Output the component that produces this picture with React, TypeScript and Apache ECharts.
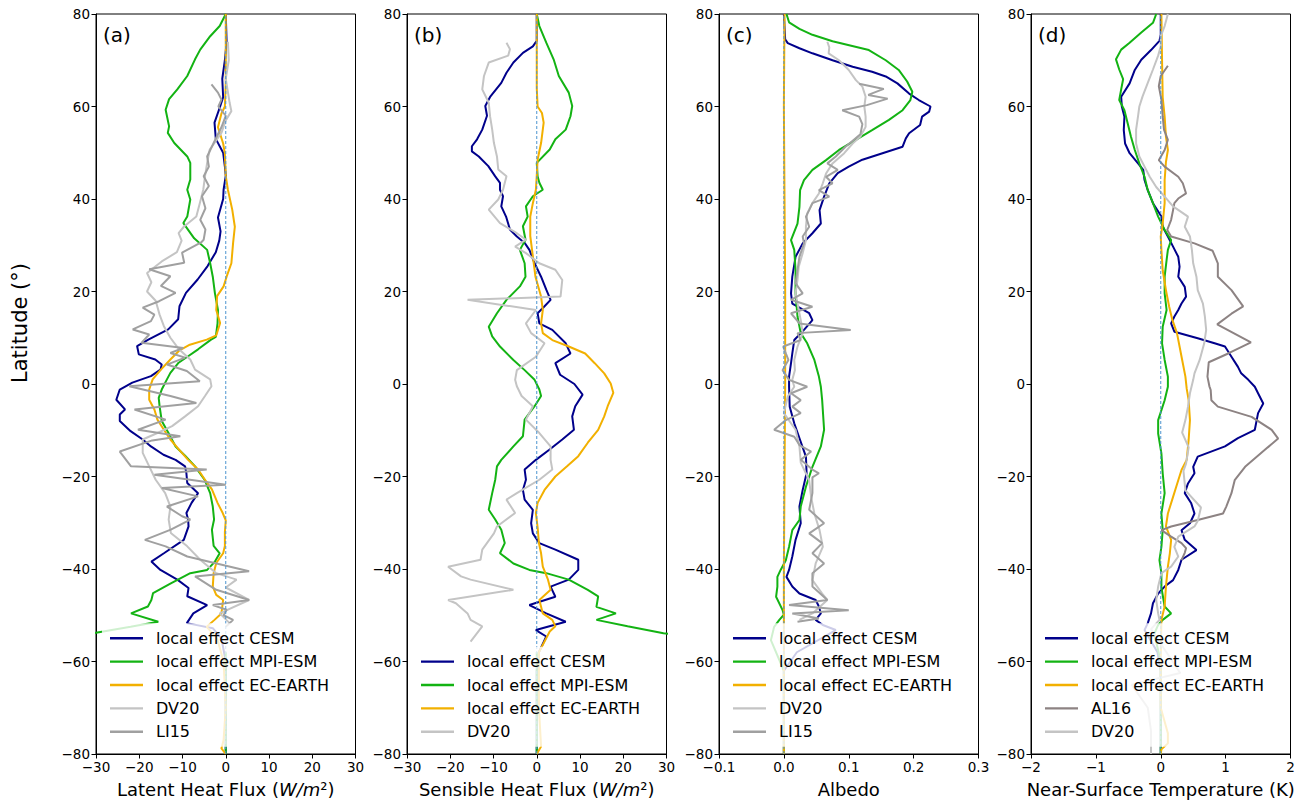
import React, { useEffect, useRef } from "react";
import * as echarts from "echarts";

const FONT = "DejaVu Sans";

// ---------- tick / axis info ----------
const LAT_MIN = -80;
const LAT_MAX = 80;
const LAT_STEP = 20;
const PANEL_LABELS = ["(a)", "(b)", "(c)", "(d)"];
const X_RANGES = [
  [-30, 30, 10],
  [-30, 30, 10],
  [-0.1, 0.3, 0.1],
  [-2, 2, 1],
];

// ---------- names ----------
const N_CESM = "local effect CESM";
const N_MPI = "local effect MPI-ESM";
const N_ECE = "local effect EC-EARTH";
const N_DV20 = "DV20";
const N_LI15 = "LI15";
const N_AL16 = "AL16";

// ---------- (a) latent heat flux : [value, latitude] ----------
const latentCESM = [[0,80],[0.2,74],[-0.2,70],[-0.8,66],[-0.6,62],[-1.3,60],[-2.6,56.5],[-2.3,53],[-0.6,50],[-0.2,47],[0,45],[-0.5,42],[-0.6,40],[-1.8,36],[-1.2,33],[-1.5,31],[-2.3,28.5],[-4.2,25.5],[-6.5,22.6],[-9.2,19.7],[-10.7,16.8],[-11,14],[-13.3,11.8],[-17.9,9.6],[-20.5,8.2],[-20.1,6.4],[-16.3,5.3],[-14.8,4.2],[-15.1,3.1],[-17.3,1.7],[-21.6,0.3],[-24.5,-1.2],[-25.3,-3.4],[-23.3,-5.5],[-24.5,-6.6],[-24.5,-8],[-22,-10.2],[-19.2,-12],[-17.3,-13.5],[-14.4,-15.3],[-11.6,-16.4],[-9.4,-17.8],[-9.1,-19.3],[-8.9,-21.4],[-6.4,-23.6],[-7.9,-25.7],[-9.1,-27.9],[-8.7,-29.3],[-8.6,-30.8],[-9.7,-33.7],[-14.3,-36.6],[-17.2,-38.4],[-15.1,-40.2],[-11.2,-42.3],[-8.6,-44.1],[-8.9,-45.9],[-4.3,-47.8],[-7.5,-49.6],[-9,-51.7],[-3,-52.8],[-1,-55],[0,-60],[0,-80]];
const latentMPI = [[0,80],[-1.4,77.4],[-3.6,75.2],[-5.9,72.3],[-7.1,70.2],[-8.9,66.6],[-11.2,63.7],[-13.1,61.6],[-13.9,59.3],[-13.1,55.7],[-13.4,54.3],[-11.9,52.1],[-8.9,49.2],[-8.2,47.8],[-8.2,44.2],[-8.9,42],[-8.2,39.9],[-8.9,36.2],[-9.8,34.8],[-7.3,31.5],[-4.3,29],[-3.6,26.1],[-3,23.2],[-2.5,19.6],[-1.8,16],[-1.9,13.1],[-2.3,10.2],[-3.4,9.6],[-6.4,7.5],[-8.7,6],[-10.9,4.6],[-12.8,2.4],[-13.6,1],[-14.8,-1.2],[-15.5,-3],[-15.3,-4.8],[-14.8,-8],[-13.3,-10.5],[-11.6,-13.5],[-9.4,-15.5],[-7.1,-17.8],[-4.9,-20.7],[-3.6,-23.6],[-3,-26.5],[-2.7,-29.3],[-3.2,-31.5],[-2.8,-35],[-1.4,-36.6],[-2.5,-38.4],[-4.3,-40.2],[-8.2,-40.9],[-12.7,-43.1],[-16.8,-45.2],[-17.2,-46.7],[-18,-48.1],[-21.9,-49.6],[-15.6,-51.4],[-22,-52.5],[-30,-53.8],[-36,-54.5]];
const latentMPITail = [[0,-58],[0,-80]];
const latentECE = [[0,80],[0,65],[-0.2,60],[-1,58.5],[-1.8,55.5],[-0.6,52],[-0.2,49.8],[0,45],[0.5,42],[1.5,37.7],[2.1,34],[1.7,30.5],[1.3,26.1],[0.2,23.2],[-0.5,21.1],[-2,19],[-2.2,16],[-1.3,13.2],[-2.2,10.5],[-4.4,9.6],[-8.3,8.5],[-10.8,7.2],[-12.8,5.3],[-15,3.1],[-16.9,1],[-17.7,-1.2],[-17.7,-3.4],[-16.5,-5.5],[-15.8,-7.7],[-14.3,-9.9],[-12.8,-12],[-10.8,-14.2],[-8.7,-16.4],[-6.4,-18.5],[-4.8,-20.7],[-3.2,-22.8],[-1.9,-25.7],[-0.7,-27.9],[0,-29.5],[-0.2,-32],[-0.2,-35],[-0.6,-36.6],[-2.2,-38.7],[-2.8,-40.9],[-3,-43.8],[-2.2,-45.6],[-0.6,-46.7],[-1,-49.6],[-2.6,-51],[-4.4,-52.5],[-2,-55],[-0.5,-60],[0,-70],[-0.5,-77],[-1,-78.8],[0,-80]];
const latentDV20 = [[0.5,74],[0.7,70],[0,66],[0.9,60.8],[1.3,59],[0,57],[-1,54.3],[-2.7,52],[-3.7,50.7],[-4.3,47.8],[-4.8,44.9],[-5.2,42],[-6,39.1],[-6.8,36.2],[-9.7,34],[-10.9,32.6],[-10.2,31],[-11.3,28.5],[-14.8,26.5],[-18.2,24],[-17.2,22],[-18.2,20],[-16.2,18],[-15.3,15],[-14.3,12.5],[-12.8,10],[-10.8,7.5],[-8.2,5.3],[-7.1,3.1],[-3.6,1],[-3.3,-0.5],[-4.8,-2.6],[-6.4,-4.8],[-9.4,-7],[-12.4,-9.1],[-15.8,-10.6],[-19.2,-12],[-19.2,-14.9],[-17.7,-17.8],[-16.2,-20.7],[-14,-23.6],[-12.8,-26.5],[-13.2,-29.3],[-12.7,-32.2],[-8.9,-35.1],[-5.9,-38],[-2.2,-40.9],[2.5,-42.3],[0,-44],[5.4,-46.7],[-1.4,-49.6],[0.9,-51.7]];
const latentLI15 = [[-3.3,64.8],[-1.8,63],[-1,61.5],[-1.7,60],[0,58],[-1,55.5],[-2.8,52.1],[-4.3,49.2],[-3.9,47],[-5.1,44.9],[-3.9,42.8],[-5.5,40.6],[-4.7,38],[-5.9,35.5],[-4.7,33.4],[-5.1,31.2],[-5.7,30.6],[-10.1,28.4],[-9.6,26.2],[-17.7,24.8],[-12.8,23.3],[-15,21.2],[-11.6,19.7],[-15.4,17.9],[-19.2,16.5],[-16.5,15],[-17.3,13.6],[-21.5,11.8],[-17.7,10.7],[-19.5,8.9],[-9.8,7.8],[-12.8,6.7],[-9.4,5.7],[-13.6,4.2],[-9,2.8],[-6,0.6],[-22.3,-0.5],[-12.8,-2.6],[-6.8,-4.1],[-21.1,-5.5],[-13.9,-7.7],[-20.3,-9.9],[-10.5,-11.3],[-17,-12.2],[-24.5,-14.6],[-21.9,-17.8],[-4.4,-18.5],[-16.5,-19.6],[0,-21.8],[-14.8,-22.5],[-6.4,-24.3],[-13.6,-26.5],[-10.1,-28.6],[-8.2,-29.3],[-12.7,-31.5],[-18.7,-33.7],[-13.9,-35.1],[-8.9,-37.3],[5.4,-40.5],[-7.1,-41.6],[-2.2,-44.5],[5.4,-46.7],[-3,-47.8],[0.2,-48.8],[-0.5,-50],[1.7,-51],[0,-52.5]];

// ---------- (b) sensible heat flux ----------
const sensibleCESM = [[0,80],[0,74.2],[-0.9,73],[-3.2,71.6],[-5.4,69.5],[-7,67.3],[-8.2,65.1],[-10.7,62.2],[-11.9,60.1],[-11.5,58],[-12.6,55],[-13.8,52.9],[-15,51.4],[-15,50.3],[-13.4,49.2],[-11.2,47.1],[-9.6,44.9],[-8.5,43.5],[-8.5,42],[-7.8,40.6],[-8.2,38.4],[-7.1,36.2],[-6.2,33.4],[-4.6,31.9],[-2.8,30.5],[-1.7,29],[-0.5,26.1],[1,23.2],[2.2,20.4],[3.2,18.2],[1.8,16.8],[0.2,15.3],[0.6,13.1],[3.6,11.7],[6.7,8.8],[7.8,6.6],[4.3,4.5],[5.4,2],[8.7,0],[10.6,-2.3],[8.9,-4.8],[8.2,-7],[8.6,-9.9],[5.9,-12],[2.9,-14.2],[-0.2,-16.4],[-2.8,-18.5],[-2.5,-20.7],[-3.2,-22.9],[-2.8,-25],[-0.9,-27.2],[-1.3,-30.1],[-0.9,-32.3],[0.6,-34.4],[4.3,-35.8],[9.6,-38],[9.6,-40.2],[7.4,-42.3],[3.2,-43.8],[4.3,-46],[-1.7,-47.8],[2.2,-49.6],[6.7,-51.4],[-0.2,-53.2],[2.2,-54.6],[0.5,-58],[0,-62],[0,-80]];
const sensibleMPI = [[0,80],[0.6,77.4],[2.2,73.8],[3.9,70.2],[5.1,66.6],[7.4,63],[8.2,60.1],[7.8,57.9],[6.7,55],[4.3,52.9],[3,50.7],[0,47.8],[0.2,44.9],[0.6,43.5],[1.4,42],[-0.9,40.6],[-2.5,38.4],[-2.1,36.2],[-3.2,34.1],[-2.6,31.2],[-3.9,29],[-2.8,26.1],[-2.6,23.2],[-3.9,21.1],[-7,18.2],[-9.2,15.3],[-11.1,12.4],[-10.3,10.3],[-8.5,8.1],[-5.4,5.2],[-2.8,3],[-0.5,0.9],[0.6,-1.2],[1,-2.6],[-0.5,-4.8],[-2.8,-7.7],[-3.2,-11.3],[-5.4,-13.5],[-8.2,-16.4],[-9.2,-17.8],[-9.6,-20.7],[-10.3,-23.6],[-11.1,-27.2],[-9.6,-29.3],[-8.2,-31.5],[-7.4,-34.4],[-8.5,-36.6],[-5.4,-38.8],[-1.7,-40.2],[2.2,-40.9],[7.4,-42.3],[11.8,-44.5],[14.2,-45.9],[13.8,-48.2],[18.3,-49.6],[13.8,-51],[21,-52.4],[29.3,-53.9],[36,-54.5]];
const sensibleMPITail = [[0,-58],[0,-80]];
const sensibleECE = [[0,80],[0,64],[0.2,60],[1.2,58.6],[1.6,56.5],[1,52.1],[0.2,48.5],[0,45],[-0.2,42],[-0.9,39.1],[-1.5,36.2],[-1.5,32],[-0.9,27.6],[-0.3,23.2],[1,18.9],[1.4,16],[1,13.1],[1.4,11],[3.6,9.5],[7.4,8.1],[11.2,6.6],[13.4,4.5],[15.6,2.3],[17.1,0.1],[17.7,-1.9],[16.4,-4.8],[15.6,-7],[14.2,-9.9],[11.8,-12.7],[9.6,-15.6],[7,-17.8],[4.3,-20],[1.8,-22.9],[0.2,-25.7],[-0.2,-27.9],[0.2,-31],[0.5,-34.4],[1,-36.6],[1.4,-39.5],[2.6,-42.3],[3.2,-44.5],[0.6,-46.7],[1.4,-49.6],[3.6,-51],[4.3,-52.4],[3,-53.5],[0.5,-58],[0.5,-70],[1,-78.4],[0,-80]];
const sensibleDV20 = [[-7,73.8],[-6.2,72.4],[-6.6,71],[-11.1,69.5],[-12.2,66.6],[-12.6,63.7],[-11.1,60.8],[-10.8,57.9],[-10.3,55],[-9.9,52.1],[-9.2,49.2],[-8.9,46.4],[-7,44.9],[-7.8,42],[-8.9,39.9],[-11.1,37.7],[-8.5,34.8],[-4.6,32.6],[-2.5,31.2],[-5,29.7],[-2.5,28.3],[0.6,26.1],[4.3,24.7],[5.9,22.5],[5.5,18.9],[-16,18.2],[-0.2,16],[-2.5,13.1],[-1.3,11],[1.8,8.8],[-0.2,5.9],[-4.6,3],[-5,0.9],[-4.6,-0.5],[-3.5,-2.6],[-0.9,-4.8],[-2.5,-7.7],[0.6,-10.6],[3.2,-13.5],[3.2,-16.4],[3.6,-18.5],[0.6,-20.7],[-4.6,-23.6],[-7,-25],[-5,-27.9],[-9.2,-30.8],[-9.9,-32.3],[-12.6,-35.8],[-13,-38],[-20.5,-39.5],[-17.5,-41.6],[-15.3,-42.3],[-5.4,-44.5],[-20.5,-46.7],[-18.7,-47.4],[-16,-49.6],[-15.3,-51],[-12.6,-52.4],[-15.3,-55.7]];

// ---------- (c) albedo ----------
const albedoCESM = [[0,80],[0.002,74.5],[0.006,73.7],[0.024,72.6],[0.044,71.5],[0.075,70],[0.106,68.6],[0.136,67.5],[0.157,66.5],[0.175,65],[0.193,62.8],[0.208,61.4],[0.226,60],[0.224,58.9],[0.213,57.8],[0.21,56],[0.193,54.2],[0.188,53.1],[0.183,51.3],[0.152,49.9],[0.121,48.5],[0.1,47],[0.083,45.6],[0.07,43.4],[0.062,40.5],[0.055,37.6],[0.057,34.7],[0.044,32.6],[0.029,30.4],[0.018,27.5],[0.013,23.2],[0.011,19.6],[0.013,17.4],[0.039,15.3],[0.044,13.8],[0.031,11.7],[0.016,9.5],[0.013,6.6],[0.011,4.5],[0.008,1.6],[0.008,-0.6],[0.009,-4.9],[0.016,-8.5],[0.025,-12.1],[0.034,-15.7],[0.035,-19.3],[0.029,-22.9],[0.024,-26.5],[0.026,-30.1],[0.018,-33.7],[0.013,-37.3],[0.008,-40.2],[0.004,-41.7],[0.013,-43.8],[0.024,-45.3],[0.049,-46.7],[0.054,-48.1],[0.057,-49.6],[0.049,-51],[0.06,-52.1],[0.08,-53.2],[0.02,-58],[0,-62],[0,-80]];
const albedoMPI = [[0.004,80],[0.008,78.2],[0.024,76.8],[0.044,75.5],[0.075,74.1],[0.131,72.2],[0.157,70],[0.177,67.9],[0.19,65.4],[0.198,63.2],[0.195,61.4],[0.183,59.2],[0.162,57.1],[0.136,54.9],[0.111,52.8],[0.085,50.6],[0.065,48.4],[0.044,46.3],[0.031,44.1],[0.025,41.9],[0.024,38.3],[0.021,34.7],[0.011,31.1],[0.016,29],[0.018,24.6],[0.018,19.6],[0.021,14.6],[0.026,11],[0.036,8.8],[0.047,5.2],[0.054,1.6],[0.057,-0.6],[0.059,-3.5],[0.062,-9.9],[0.057,-13.5],[0.044,-17.9],[0.034,-22.2],[0.026,-26.5],[0.024,-29.4],[0.013,-31.6],[0.008,-35.2],[0.003,-38.1],[-0.005,-40.2],[-0.01,-41.7],[-0.01,-43.8],[-0.012,-46],[-0.002,-48.9],[0,-49.9],[-0.007,-51],[-0.015,-52.5],[-0.02,-55.4],[0,-62],[0,-80]];
const albedoECE = [[0.001,80],[0,60],[0.001,40],[0.002,20],[0.002,0],[0.001,-20],[0,-40],[0,-60],[0,-80]];
const albedoDV20 = [[0.067,74],[0.07,72.8],[0.069,71.5],[0.085,70],[0.1,67.9],[0.111,65.7],[0.121,64.3],[0.126,62.1],[0.124,60],[0.126,57.8],[0.126,55.6],[0.118,53.5],[0.106,52],[0.093,49.9],[0.075,47.7],[0.065,45.5],[0.06,43.4],[0.054,41.2],[0.044,39.1],[0.036,36.9],[0.034,34],[0.034,31.1],[0.029,28.3],[0.023,25.4],[0.021,22.5],[0.018,19.6],[0.021,17.4],[0.026,13.8],[0.029,11],[0.021,8.1],[0.016,5.2],[0.017,3],[0.013,0.9],[0.016,-0.6],[0.006,-2.7],[0,-6.3],[0.018,-9.9],[0.024,-13.5],[0.026,-17],[0.039,-20.8],[0.042,-24.4],[0.047,-28],[0.055,-31.6],[0.06,-35.2],[0.049,-38.8],[0.044,-42.4],[0.059,-45.3],[0.067,-46.7],[0.044,-49.6],[0.024,-51]];
const albedoLI15 = [[0.116,64.9],[0.154,63.8],[0.13,62.5],[0.16,61.7],[0.128,60.3],[0.09,59.2],[0.116,57.8],[0.121,56.2],[0.118,54],[0.095,51.3],[0.08,49.2],[0.067,47.7],[0.083,46.3],[0.065,44.8],[0.075,43.4],[0.054,41.9],[0.07,40.5],[0.044,39.1],[0.039,37.6],[0.034,36.2],[0.039,34],[0.029,31.9],[0.031,30.4],[0.024,27.5],[0.021,24.6],[0.018,21.8],[0.029,19.6],[0.011,18.2],[0.044,16.7],[0.011,15.3],[0.024,13.1],[0.103,11.7],[0.021,11],[0.026,9.5],[-0.001,8.1],[0.003,6.6],[0.007,5.2],[-0.002,3],[0.008,0.9],[0.036,-0.6],[0.011,-2],[0.026,-3.5],[0.013,-4.9],[0.026,-6.3],[0.003,-7.8],[-0.015,-9.9],[0.016,-11.4],[0.024,-13.2],[0.042,-14.6],[0.026,-16.4],[0.044,-18.5],[0.054,-19.3],[0.044,-20.2],[0.044,-23.6],[0.039,-27.2],[0.062,-30.1],[0.039,-32.3],[0.059,-34.4],[0.044,-36.6],[0.062,-38.8],[0.044,-40.9],[0.044,-43.8],[0.067,-46.7],[0.008,-47.8],[0.1,-48.9],[0.013,-49.6],[0.054,-50.7],[0.021,-51.4]];

// ---------- (d) near-surface temperature ----------
const tempCESM = [[0,80],[0,75.5],[-0.02,74.2],[-0.15,72.2],[-0.3,70.1],[-0.4,67.9],[-0.48,65],[-0.61,62.1],[-0.6,60],[-0.56,57.8],[-0.57,54.9],[-0.55,52],[-0.48,49.9],[-0.35,47.7],[-0.27,46.3],[-0.25,44.1],[-0.2,41.9],[-0.12,39.1],[0.01,36.2],[0.03,34],[0.11,31.9],[0.19,29.7],[0.27,27.5],[0.29,25.4],[0.27,23.2],[0.37,21],[0.39,18.9],[0.32,17.4],[0.27,16],[0.21,14.6],[0.16,13.1],[0.21,11.3],[0.57,9.9],[0.83,8.8],[0.99,8.1],[1.09,5.9],[1.19,3.7],[1.24,2.3],[1.35,0.9],[1.45,-0.6],[1.5,-2],[1.58,-4.2],[1.5,-6.3],[1.45,-9.9],[1.19,-11.7],[0.99,-13.5],[0.57,-15.7],[0.5,-17.9],[0.52,-19.3],[0.42,-21.5],[0.37,-23.6],[0.47,-25.8],[0.52,-28],[0.45,-30.1],[0.32,-31.6],[0.37,-33.7],[0.55,-35.9],[0.32,-38],[0.27,-40.2],[0.19,-42.4],[0.06,-43.8],[-0.04,-45.3],[-0.12,-47.4],[-0.15,-49.6],[-0.2,-51.7],[-0.25,-53.2],[-0.05,-58],[0,-62],[0,-80]];
const tempMPI = [[-0.07,80],[-0.12,78.1],[-0.3,76],[-0.48,73.8],[-0.61,72.3],[-0.69,70.2],[-0.64,68],[-0.58,65.9],[-0.61,63.7],[-0.64,61.4],[-0.56,59.2],[-0.51,56.4],[-0.46,53.5],[-0.4,50.6],[-0.33,47.7],[-0.25,44.8],[-0.2,41.9],[-0.12,39.1],[-0.04,36.2],[0.06,33.3],[0.16,31.1],[0.11,29],[0.09,26.8],[0.06,23.2],[0.06,19.6],[0.09,16],[0.03,12.4],[0.02,8.8],[0.06,5.2],[0.11,1.6],[0.11,-0.6],[0.06,-3.5],[-0.04,-7.8],[-0.04,-10.7],[0.01,-15],[0.03,-19.3],[0.06,-23.6],[0.01,-28],[0.03,-31.6],[0.01,-35.2],[-0.02,-38.1],[0.01,-40.9],[0.01,-44],[0.06,-48.1],[0.16,-49.6],[0.03,-51],[-0.04,-52.1],[-0.1,-54],[0,-60],[0,-80]];
const tempECE = [[0.01,80],[0.02,70],[0.03,62],[0.06,57.8],[0.08,53.5],[0.11,50.6],[0.08,48],[0.06,44.1],[0.06,39.1],[0.03,34.7],[0,31.9],[0.01,29],[0.03,24.6],[0.08,20.3],[0.13,16.7],[0.18,13.8],[0.25,11],[0.29,8.1],[0.34,4.5],[0.38,1.6],[0.4,-1],[0.43,-3.5],[0.45,-7.8],[0.43,-12.1],[0.4,-16.4],[0.32,-18.6],[0.27,-20.8],[0.19,-24.4],[0.11,-28],[0.08,-30.8],[0.16,-33.7],[0.14,-36.6],[0.11,-39.5],[0.08,-43.8],[0.06,-48.1],[0.01,-51],[0,-60],[0,-70],[0.11,-75.5],[0.11,-77.7],[0.01,-79],[0,-80]];
const tempAL16 = [[0.11,68.8],[0,66.6],[-0.03,64.4],[0.01,61.5],[0.03,57.9],[0.05,55],[0.11,52.8],[0.06,50.6],[-0.03,48.4],[0.06,47],[0.27,44.8],[0.34,43.4],[0.39,41.2],[0.27,40.1],[0.21,39.1],[0.19,37.6],[0.16,35.5],[0.1,33.3],[0.16,31.9],[0.52,30.4],[0.8,28.8],[0.88,26.1],[0.88,23.2],[1.09,20.3],[1.27,16.8],[1.09,15.2],[0.87,12.9],[1.39,9],[1.04,6.6],[0.74,4.7],[0.72,1.6],[0.75,-0.5],[0.77,-1.3],[0.78,-3.5],[0.88,-4.9],[1.4,-7.1],[1.71,-9.9],[1.81,-11.8],[1.65,-13.7],[1.3,-17.9],[1.14,-20.8],[1.09,-23.6],[1.01,-26.5],[0.96,-28],[0.57,-29.4],[0.16,-30.8],[0.01,-31.6],[0.16,-33],[0.32,-34.4],[0.39,-35.5],[0.37,-36.5],[0.32,-38.1]];
const tempDV20 = [[0.11,80],[0.06,77.4],[0,75.2],[0,73],[-0.04,71],[-0.12,68],[-0.2,65.1],[-0.28,62.2],[-0.33,60],[-0.35,57.9],[-0.38,55],[-0.38,52],[-0.33,49.2],[-0.25,47],[-0.17,44.8],[-0.07,42.6],[0.06,40.5],[0.19,38.4],[0.42,36.2],[0.37,34],[0.45,31.9],[0.48,29],[0.5,26.1],[0.55,23.2],[0.57,20.3],[0.65,17.4],[0.68,14.6],[0.7,11.7],[0.67,8.8],[0.6,5.2],[0.52,2.3],[0.5,0.9],[0.45,-2],[0.42,-4.9],[0.38,-7.8],[0.33,-10.5],[0.43,-13.7],[0.39,-17.2],[0.35,-18.8],[0.38,-23],[0.62,-26.7],[0.57,-29.6],[0.52,-30.8],[0.27,-33],[0.21,-35.2],[0.27,-37.3],[0.16,-39.5],[0.01,-40.9],[-0.04,-43.8],[-0.07,-46.7],[-0.04,-49.6],[-0.02,-51],[-0.15,-53],[0.3,-62.5],[-0.45,-65],[-0.2,-70],[-0.15,-75],[-0.15,-80]];

const ZERO_LINE = [[0, LAT_MIN], [0, LAT_MAX]];

// ---------- styling ----------
const C_CESM = "#00008b";
const C_MPI = "#13b313";
const C_ECE = "#f2b000";
const C_DV20 = "#c4c4c4";
const C_LI15 = "#a0a0a0";
const C_AL16 = "#8d8383";
const C_ZERO = "#4d94cf";

const GRID_LEFT = [96, 407, 719, 1031];
const GRID_W = 259.5;
const GRID_TOP = 14;
const GRID_H = 740;

const X_NAMES = [
  "{n|Latent Heat Flux (}{i|W/m}{n|²)}",
  "{n|Sensible Heat Flux (}{i|W/m}{n|²)}",
  "{n|Albedo}",
  "{n|Near-Surface Temperature (K)}",
];

type Pt = number[];
type SeriesDef = { name: string; data: Pt[]; color: string };

const PANELS: { series: SeriesDef[]; legend: string[] }[] = [
  {
    series: [
      { name: N_CESM, data: latentCESM, color: C_CESM },
      { name: N_MPI, data: latentMPI, color: C_MPI },
      { name: "", data: latentMPITail, color: C_MPI },
      { name: N_ECE, data: latentECE, color: C_ECE },
      { name: N_DV20, data: latentDV20, color: C_DV20 },
      { name: N_LI15, data: latentLI15, color: C_LI15 },
    ],
    legend: [N_CESM, N_MPI, N_ECE, N_DV20, N_LI15],
  },
  {
    series: [
      { name: N_CESM, data: sensibleCESM, color: C_CESM },
      { name: N_MPI, data: sensibleMPI, color: C_MPI },
      { name: "", data: sensibleMPITail, color: C_MPI },
      { name: N_ECE, data: sensibleECE, color: C_ECE },
      { name: N_DV20, data: sensibleDV20, color: C_DV20 },
    ],
    legend: [N_CESM, N_MPI, N_ECE, N_DV20],
  },
  {
    series: [
      { name: N_CESM, data: albedoCESM, color: C_CESM },
      { name: N_MPI, data: albedoMPI, color: C_MPI },
      { name: N_ECE, data: albedoECE, color: C_ECE },
      { name: N_DV20, data: albedoDV20, color: C_DV20 },
      { name: N_LI15, data: albedoLI15, color: C_LI15 },
    ],
    legend: [N_CESM, N_MPI, N_ECE, N_DV20, N_LI15],
  },
  {
    series: [
      { name: N_CESM, data: tempCESM, color: C_CESM },
      { name: N_MPI, data: tempMPI, color: C_MPI },
      { name: N_ECE, data: tempECE, color: C_ECE },
      { name: N_AL16, data: tempAL16, color: C_AL16 },
      { name: N_DV20, data: tempDV20, color: C_DV20 },
    ],
    legend: [N_CESM, N_MPI, N_ECE, N_AL16, N_DV20],
  },
];

function fmtTick(v: number, panel: number): string {
  let s: string;
  if (panel === 2) {
    s = Math.abs(v) < 1e-9 ? "0.0" : v.toFixed(1);
  } else {
    s = String(Math.round(v));
  }
  return s.replace("-", "\u2212");
}

function buildOption() {
  const grid: any[] = [];
  const xAxis: any[] = [];
  const yAxis: any[] = [];
  const series: any[] = [];
  const legend: any[] = [];
  const graphic: any[] = [];

  const ROW_STEP = 23.35;
  const firstRowA = 638.3;

  PANELS.forEach((p, i) => {
    grid.push({
      left: GRID_LEFT[i],
      top: GRID_TOP,
      width: GRID_W,
      height: GRID_H,
      show: true,
      borderColor: "#000",
      borderWidth: 1,
      backgroundColor: "transparent",
    });
    const [mn, mx, iv] = X_RANGES[i];
    xAxis.push({
      type: "value",
      gridIndex: i,
      min: mn,
      max: mx,
      interval: iv,
      axisLine: { show: true, onZero: false, lineStyle: { color: "#000", width: 1 } },
      axisTick: { show: true, length: 4.5, lineStyle: { color: "#000" } },
      axisLabel: {
        fontSize: 13.5,
        color: "#000",
        fontFamily: FONT,
        margin: 6,
        formatter: (v: number) => fmtTick(v, i),
      },
      splitLine: { show: false },
      name: X_NAMES[i],
      nameLocation: "middle",
      nameGap: 26,
      nameTextStyle: {
        fontFamily: FONT,
        fontSize: 18,
        color: "#000",
        rich: {
          n: { fontFamily: FONT, fontSize: 18, color: "#000" },
          i: { fontFamily: FONT, fontSize: 18, color: "#000", fontStyle: "italic" },
        },
      },
    });
    yAxis.push({
      type: "value",
      gridIndex: i,
      min: LAT_MIN,
      max: LAT_MAX,
      interval: LAT_STEP,
      axisLine: { show: true, onZero: false, lineStyle: { color: "#000", width: 1 } },
      axisTick: { show: true, length: 4.5, lineStyle: { color: "#000" } },
      axisLabel: {
        fontSize: 13.5,
        color: "#000",
        fontFamily: FONT,
        margin: 6,
        formatter: (v: number) => String(v).replace("-", "\u2212"),
      },
      splitLine: { show: false },
    });

    p.series.forEach((s) => {
      series.push({
        type: "line",
        name: s.name,
        data: s.data,
        xAxisIndex: i,
        yAxisIndex: i,
        symbol: "none",
        showSymbol: false,
        clip: true,
        silent: true,
        lineStyle: { color: s.color, width: 2 },
        itemStyle: { color: s.color },
        z: 2,
      });
    });
    series.push({
      type: "line",
      name: "",
      data: ZERO_LINE,
      xAxisIndex: i,
      yAxisIndex: i,
      symbol: "none",
      showSymbol: false,
      silent: true,
      lineStyle: { color: C_ZERO, width: 1, type: [3, 2] },
      z: 3,
    });

    const nItems = p.legend.length;
    const firstRow = firstRowA + (5 - nItems) * ROW_STEP;
    legend.push({
      orient: "vertical",
      left: GRID_LEFT[i] + 6,
      top: firstRow - 9 - 6,
      padding: [6, 8, 6, 8],
      itemWidth: 33,
      itemHeight: 2.4,
      itemGap: ROW_STEP - 18,
      icon: "rect",
      selectedMode: false,
      backgroundColor: "rgba(255,255,255,0.8)",
      borderWidth: 0,
      textStyle: {
        fontFamily: FONT,
        fontSize: 16,
        color: "#000",
        lineHeight: 18,
        padding: [0, 0, 0, 8],
      },
      data: p.legend,
      z: 10,
    });

    graphic.push({
      type: "text",
      left: GRID_LEFT[i] + 7,
      top: 25,
      style: {
        text: PANEL_LABELS[i],
        fontSize: 20,
        fontFamily: FONT,
        fill: "#000",
      },
      z: 20,
    });
  });

  graphic.push({
    type: "text",
    x: 20,
    y: 323,
    rotation: Math.PI / 2,
    style: {
      text: "Latitude (°)",
      fontSize: 21,
      fontFamily: FONT,
      fill: "#000",
      align: "center",
      verticalAlign: "middle",
    },
    z: 20,
  });

  return {
    animation: false,
    backgroundColor: "#fff",
    textStyle: { fontFamily: FONT },
    grid,
    xAxis,
    yAxis,
    series,
    legend,
    graphic,
  };
}

export default function App() {
  const ref = useRef<HTMLDivElement | null>(null);
  useEffect(() => {
    if (!ref.current) return;
    const chart = echarts.init(ref.current, undefined, { renderer: "svg" });
    chart.setOption(buildOption() as any);
    return () => chart.dispose();
  }, []);
  return (
    <div
      ref={ref}
      style={{ position: "absolute", left: 0, top: 0, width: 1309, height: 805, background: "#fff" }}
    />
  );
}
